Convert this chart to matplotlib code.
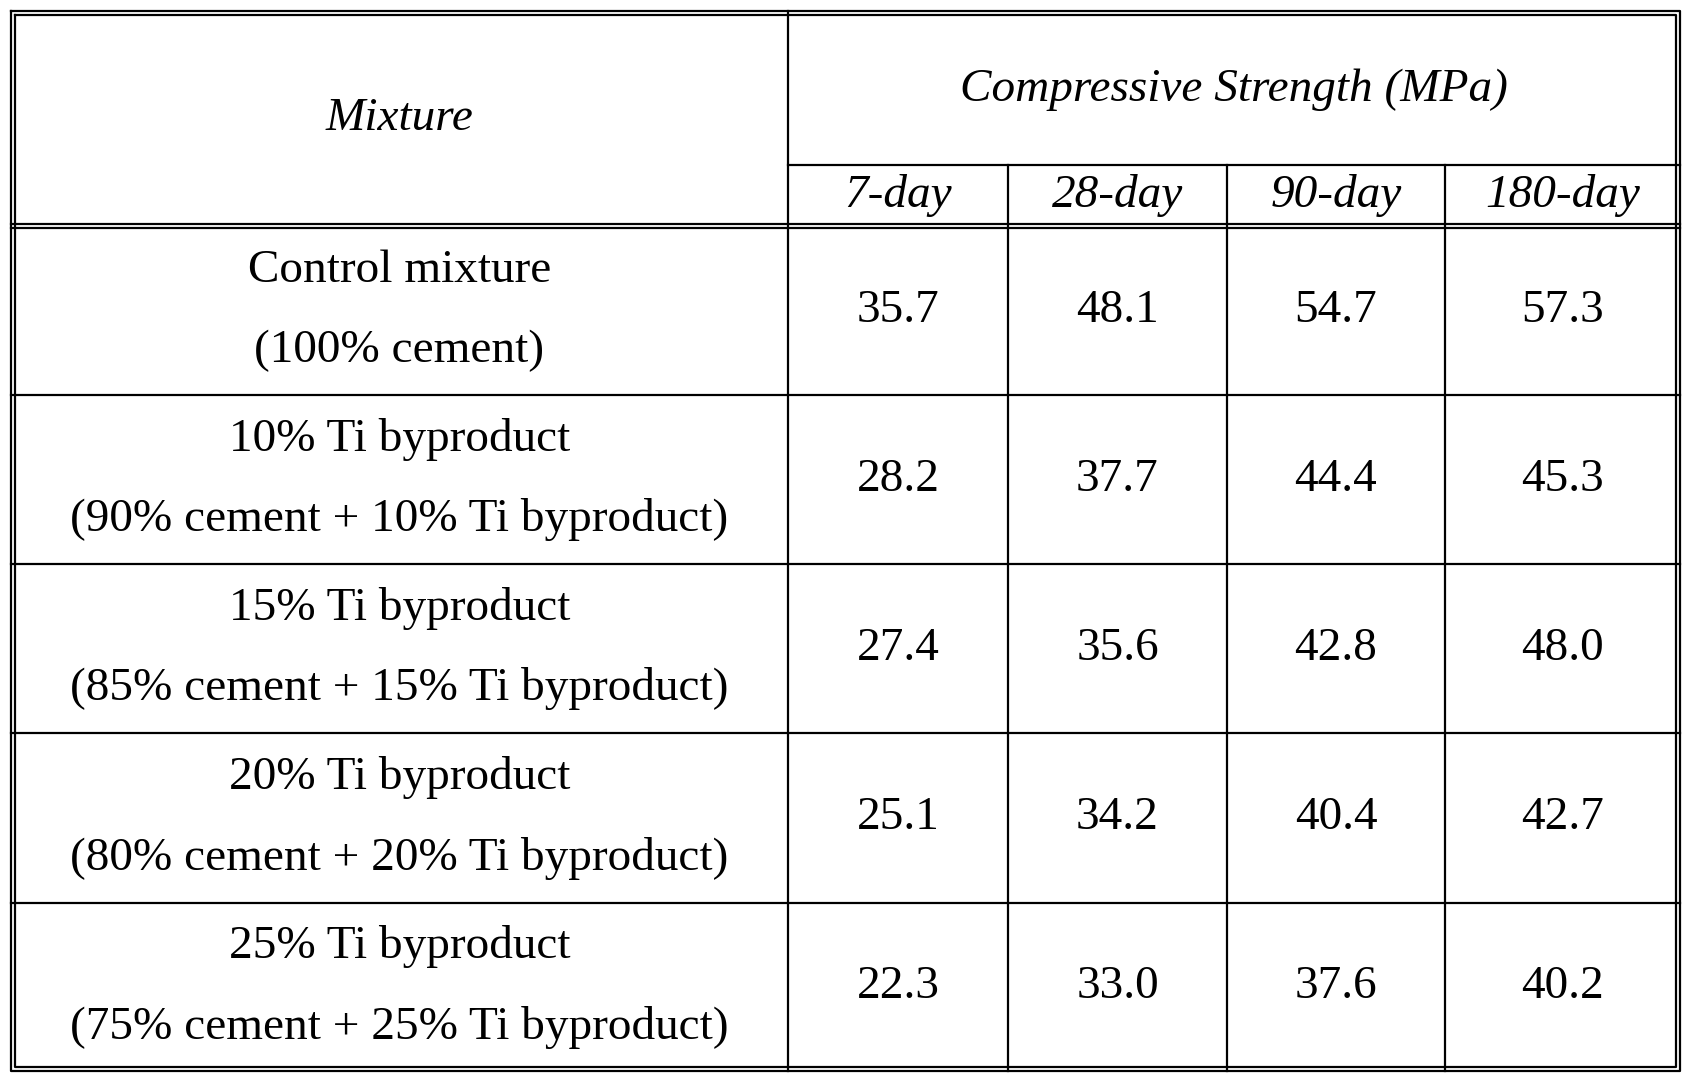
import matplotlib.pyplot as plt

mixtures = ["Control mixture\n(100% cement)",
            "10% Ti byproduct\n(90% cement + 10% Ti byproduct)",
            "15% Ti byproduct\n(85% cement + 15% Ti byproduct)",
            "20% Ti byproduct\n(80% cement + 20% Ti byproduct)",
            "25% Ti byproduct\n(75% cement + 25% Ti byproduct)"]
ages = ["7-day", "28-day", "90-day", "180-day"]
day7 = [35.7, 28.2, 27.4, 25.1, 22.3]
day28 = [48.1, 37.7, 35.6, 34.2, 33.0]
day90 = [54.7, 44.4, 42.8, 40.4, 37.6]
day180 = [57.3, 45.3, 48.0, 42.7, 40.2]

W, H = 1690, 1081
fig = plt.figure(figsize=(W / 100, H / 100), dpi=100)
ax = fig.add_axes([0, 0, 1, 1])
ax.set_xlim(0, W)
ax.set_ylim(H, 0)
ax.axis('off')

L, R, T, B = 11, 1680, 11, 1071
cols = [L, 788, 1008, 1227, 1445, R]
hmid, hbot = 165, 226
rows = [hbot, 395, 564, 733, 903, B]
lw = 1.6
font = dict(family="Liberation Serif", fontsize=34, color="black")

# outer double frame
ax.plot([L, R, R, L, L], [T, T, B, B, T], color="black", lw=lw)
ax.plot([L + 4, R - 4, R - 4, L + 4, L + 4], [T + 4, T + 4, B - 4, B - 4, T + 4], color="black", lw=lw)
ax.plot([L, R], [hbot - 2, hbot - 2], color="black", lw=lw)
ax.plot([L, R], [hbot + 2, hbot + 2], color="black", lw=lw)
ax.plot([cols[1], cols[1]], [T, B], color="black", lw=lw)
ax.plot([cols[1], R], [hmid, hmid], color="black", lw=lw)
for x in cols[2:5]:
    ax.plot([x, x], [hmid, B], color="black", lw=lw)
for y in rows[1:5]:
    ax.plot([L, R], [y, y], color="black", lw=lw)

ax.text((L + cols[1]) / 2, (T + hbot) / 2, "Mixture", ha="center", va="center", style="italic", **font)
ax.text((cols[1] + R) / 2, (T + hmid) / 2 + 2, "Compressive Strength (MPa)", ha="center", va="center", style="italic", **font)
for i, a in enumerate(ages):
    ax.text((cols[i + 1] + cols[i + 2]) / 2, (hmid + hbot) / 2, a, ha="center", va="center", style="italic", **font)

series = [day7, day28, day90, day180]
for r, m in enumerate(mixtures):
    yc = (rows[r] + rows[r + 1]) / 2
    ax.text((L + cols[1]) / 2, yc, m, ha="center", va="center", linespacing=2.15, **font)
    for c, s in enumerate(series):
        ax.text((cols[c + 1] + cols[c + 2]) / 2, yc, f"{s[r]:.1f}", ha="center", va="center", **font)

fig.savefig("out.png", dpi=100, facecolor="white")
